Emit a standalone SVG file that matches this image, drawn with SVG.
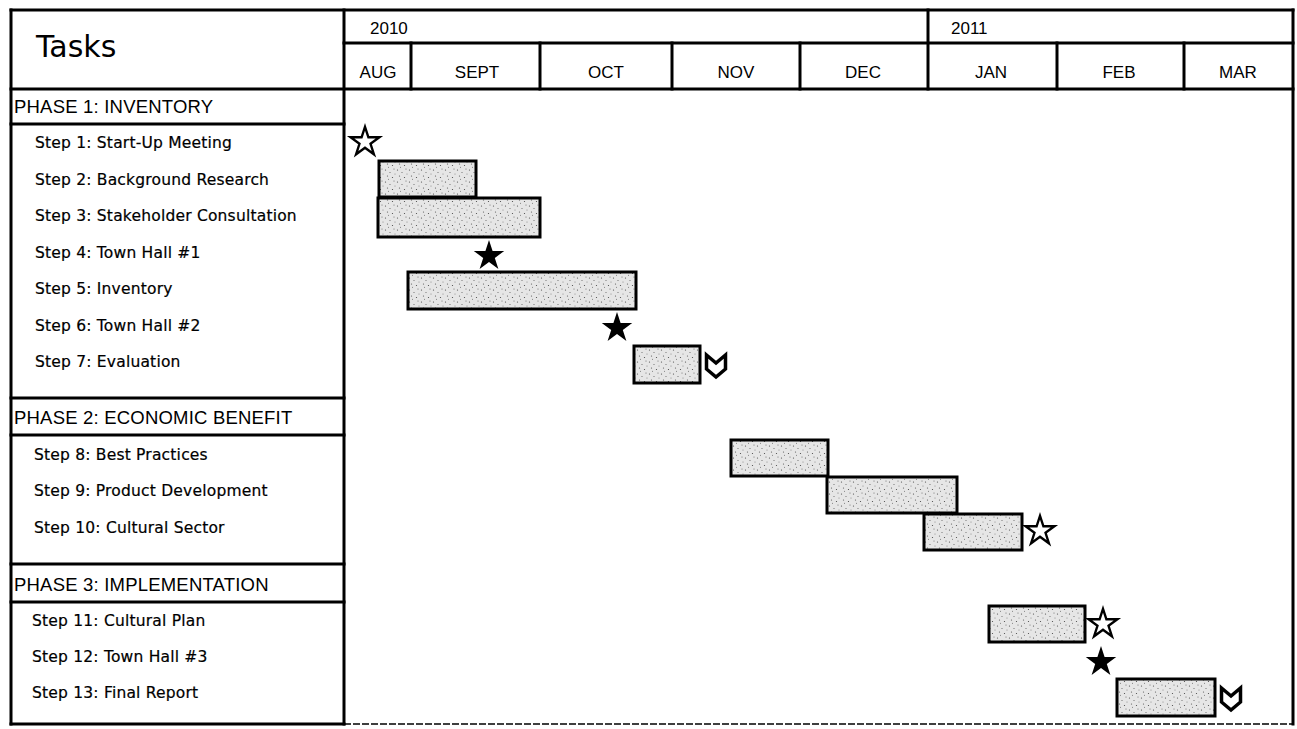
<svg xmlns="http://www.w3.org/2000/svg" xmlns:xlink="http://www.w3.org/1999/xlink" width="1297" height="729" viewBox="0 0 1297 729">
<style>
.frame{stroke:#000;stroke-width:3;fill:none;stroke-linecap:square}
.t{font-family:"Liberation Sans",Arial,sans-serif;fill:#000}
.step{font-family:"DejaVu Sans","Liberation Sans",sans-serif;font-size:15.5px;letter-spacing:0.2px;stroke:#000;stroke-width:0.2}
.phase{font-size:18.5px;letter-spacing:0.2px}
.hdr{font-size:17px}
.bar{fill:url(#stip);stroke:#000;stroke-width:3}
.sf{fill:#000}
.so{fill:#fff;stroke:#000;stroke-width:2.5;stroke-linejoin:miter}
.chev{fill:#fff;stroke:#000;stroke-width:3.5;stroke-linejoin:miter}
</style>
<defs>
<pattern id="stip" width="12" height="12" patternUnits="userSpaceOnUse">
<rect width="12" height="12" fill="#e6e6e6"/>
<circle cx="1.5" cy="2" r="0.6" fill="#444"/>
<circle cx="6" cy="4.5" r="0.6" fill="#666"/>
<circle cx="10" cy="1" r="0.5" fill="#555"/>
<circle cx="3.5" cy="8" r="0.6" fill="#555"/>
<circle cx="8.5" cy="9.5" r="0.6" fill="#444"/>
<circle cx="11" cy="6" r="0.5" fill="#777"/>
<circle cx="4.5" cy="11.3" r="0.5" fill="#666"/>
</pattern>
<path id="star" d="M0,-16 L3.59,-4.94 L15.22,-4.94 L5.81,1.89 L9.40,12.94 L0,6.11 L-9.40,12.94 L-5.81,1.89 L-15.22,-4.94 L-3.59,-4.94 Z"/>
<path id="chevron" d="M-9.5,-11 L0,-3 L9.5,-11 L9.5,3 L0,11 L-9.5,3 Z"/>
</defs>
<rect width="1297" height="729" fill="#fff"/>

<g id="grid">
<line class="frame" x1="11" y1="10" x2="1293" y2="10"/>
<line class="frame" x1="11" y1="10" x2="11" y2="724"/>
<line class="frame" x1="344" y1="10" x2="344" y2="724"/>
<line class="frame" x1="1293" y1="10" x2="1293" y2="724"/>
<line class="frame" x1="11" y1="724" x2="344" y2="724"/>
<line x1="344" y1="724" x2="1293" y2="724" stroke="#000" stroke-width="1.5" stroke-dasharray="7 2"/>
<line class="frame" x1="344" y1="43" x2="1293" y2="43"/>
<line class="frame" x1="11" y1="89" x2="1293" y2="89"/>
<line class="frame" x1="928" y1="10" x2="928" y2="89"/>
<line class="frame" x1="411" y1="43" x2="411" y2="89"/>
<line class="frame" x1="540" y1="43" x2="540" y2="89"/>
<line class="frame" x1="672" y1="43" x2="672" y2="89"/>
<line class="frame" x1="800" y1="43" x2="800" y2="89"/>
<line class="frame" x1="1057" y1="43" x2="1057" y2="89"/>
<line class="frame" x1="1184" y1="43" x2="1184" y2="89"/>
<line class="frame" x1="11" y1="124" x2="344" y2="124"/>
<line class="frame" x1="11" y1="398" x2="344" y2="398"/>
<line class="frame" x1="11" y1="435" x2="344" y2="435"/>
<line class="frame" x1="11" y1="564" x2="344" y2="564" stroke-width="4"/>
<line class="frame" x1="11" y1="602" x2="344" y2="602"/>
</g>

<g id="header">
<text x="36" y="57" font-family="DejaVu Sans, Liberation Sans, sans-serif" font-size="30" fill="#000">Tasks</text>
<text class="t hdr" x="370" y="34">2010</text>
<text class="t hdr" x="951" y="34">2011</text>
<text class="t hdr" x="378" y="78" text-anchor="middle">AUG</text>
<text class="t hdr" x="477" y="78" text-anchor="middle">SEPT</text>
<text class="t hdr" x="606" y="78" text-anchor="middle">OCT</text>
<text class="t hdr" x="736" y="78" text-anchor="middle">NOV</text>
<text class="t hdr" x="863" y="78" text-anchor="middle">DEC</text>
<text class="t hdr" x="991" y="78" text-anchor="middle">JAN</text>
<text class="t hdr" x="1119" y="78" text-anchor="middle">FEB</text>
<text class="t hdr" x="1238" y="78" text-anchor="middle">MAR</text>
</g>

<g id="phase1">
<text class="t phase" x="14" y="113">PHASE 1: INVENTORY</text>
<text class="t step" x="35" y="148">Step 1: Start-Up Meeting</text>
<text class="t step" x="35" y="185">Step 2: Background Research</text>
<text class="t step" x="35" y="221">Step 3: Stakeholder Consultation</text>
<text class="t step" x="35" y="258">Step 4: Town Hall #1</text>
<text class="t step" x="35" y="294">Step 5: Inventory</text>
<text class="t step" x="35" y="331">Step 6: Town Hall #2</text>
<text class="t step" x="35" y="367">Step 7: Evaluation</text>
</g>
<g id="phase2">
<text class="t phase" x="14" y="424">PHASE 2: ECONOMIC BENEFIT</text>
<text class="t step" x="34" y="460">Step 8: Best Practices</text>
<text class="t step" x="34" y="496">Step 9: Product Development</text>
<text class="t step" x="34" y="533">Step 10: Cultural Sector</text>
</g>
<g id="phase3">
<text class="t phase" x="14" y="591">PHASE 3: IMPLEMENTATION</text>
<text class="t step" x="32" y="626">Step 11: Cultural Plan</text>
<text class="t step" x="32" y="662">Step 12: Town Hall #3</text>
<text class="t step" x="32" y="698">Step 13: Final Report</text>
</g>

<g id="step1"><use href="#star" class="so" transform="translate(365,142) scale(0.95)"/></g>
<g id="step2"><rect class="bar" x="379" y="161" width="97" height="36"/></g>
<g id="step3"><rect class="bar" x="378" y="198" width="162" height="39"/></g>
<g id="step4"><use href="#star" class="sf" transform="translate(489,256)"/></g>
<g id="step5"><rect class="bar" x="408" y="272" width="228" height="37"/></g>
<g id="step6"><use href="#star" class="sf" transform="translate(617,328)"/></g>
<g id="step7"><rect class="bar" x="634" y="346" width="66" height="37"/><use href="#chevron" class="chev" transform="translate(716,366)"/></g>
<g id="step8"><rect class="bar" x="731" y="440" width="97" height="36"/></g>
<g id="step9"><rect class="bar" x="827" y="477" width="130" height="36"/></g>
<g id="step10"><rect class="bar" x="924" y="514" width="98" height="36"/><use href="#star" class="so" transform="translate(1040,531) scale(0.95)"/></g>
<g id="step11"><rect class="bar" x="989" y="606" width="96" height="36"/><use href="#star" class="so" transform="translate(1103,624) scale(0.95)"/></g>
<g id="step12"><use href="#star" class="sf" transform="translate(1101,662)"/></g>
<g id="step13"><rect class="bar" x="1117" y="679" width="98" height="37"/><use href="#chevron" class="chev" transform="translate(1231,699)"/></g>
<g id="connectors"/>
</svg>
